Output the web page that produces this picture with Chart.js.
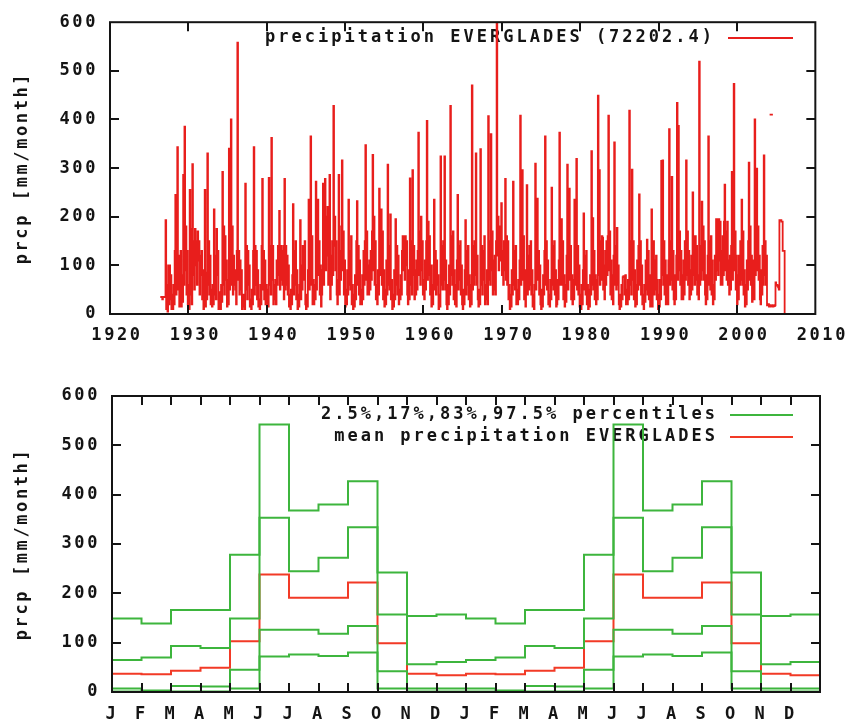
<!DOCTYPE html>
<html>
<head>
<meta charset="utf-8">
<script src="https://cdn.jsdelivr.net/npm/chart.js@4.4.1/dist/chart.umd.min.js"></script>
<style>
  body { margin: 0; background: #fff; }
  .panel { position: absolute; left: 0; width: 852px; }
  #top { top: 0; height: 355px; }
  #bottom { top: 360px; height: 361px; }
</style>
</head>
<body>
<div class="panel" id="top"><canvas id="c1"></canvas></div>
<div class="panel" id="bottom"><canvas id="c2"></canvas></div>
<script>
// monthly precipitation [mm/month], EVERGLADES (72202.4); first value is June 1926
const firstYear = 1926;
const firstMonth = 5; // 0 = January

const prcp1920s = [
  35, 35, 35, 30, 35, 35, 35,                              // 1926 Jun-Dec
  35, 193, 10, 60, 5, 100, 20, 100, 30, 80, 10, 40,        // 1927
  10, 60, 20, 130, 245, 40, 160, 343, 50, 120, 15, 55,     // 1928
  130, 15, 80, 25, 286, 60, 385, 90, 180, 40, 130, 20      // 1929
];
const prcp1930s = [
  60, 10, 255, 40, 175, 20, 308, 80, 150, 50, 175, 100,
  150, 60, 170, 110, 150, 40, 120, 80, 130, 30, 90, 10,
  40, 255, 15, 85, 30, 330, 60, 150, 40, 120, 20, 50,
  15, 60, 20, 215, 40, 120, 30, 175, 80, 130, 10, 45,
  20, 10, 60, 25, 292, 60, 180, 40, 160, 70, 110, 15,
  70, 20, 340, 50, 130, 400, 60, 180, 40, 120, 60, 90,
  50, 20, 130, 558, 70, 130, 40, 110, 50, 90, 10, 40,
  15, 40, 10, 268, 50, 140, 30, 130, 60, 100, 15, 30,
  10, 50, 20, 130, 343, 40, 140, 60, 130, 30, 90, 15,
  30, 10, 60, 20, 140, 278, 50, 130, 30, 110, 20, 60
];
const prcp1940s = [
  20, 50, 15, 280, 60, 140, 40, 362, 70, 140, 20, 60,
  30, 70, 20, 110, 60, 140, 80, 212, 50, 140, 70, 130,
  60, 140, 30, 278, 50, 140, 60, 120, 40, 100, 15, 40,
  10, 50, 20, 80, 226, 40, 130, 60, 150, 30, 90, 10,
  40, 15, 60, 193, 30, 100, 50, 140, 70, 120, 150, 20,
  10, 40, 15, 90, 235, 50, 140, 365, 60, 160, 20, 70,
  20, 60, 30, 272, 50, 130, 235, 80, 150, 40, 100, 15,
  40, 90, 268, 60, 150, 278, 90, 200, 120, 220, 60, 130,
  286, 30, 120, 60, 150, 80, 428, 140, 200, 90, 150, 40,
  20, 70, 286, 40, 130, 70, 180, 316, 90, 170, 40, 110
];
const prcp1950s = [
  15, 50, 20, 90, 40, 235, 60, 130, 50, 160, 20, 60,
  10, 40, 15, 80, 30, 150, 232, 60, 140, 40, 110, 20,
  50, 20, 80, 30, 130, 60, 150, 347, 70, 170, 40, 100,
  40, 110, 50, 130, 70, 170, 327, 90, 200, 60, 150, 30,
  60, 20, 90, 40, 258, 80, 140, 215, 60, 170, 30, 90,
  15, 50, 20, 110, 40, 307, 60, 140, 50, 205, 30, 70,
  10, 40, 15, 90, 30, 195, 60, 140, 40, 120, 20, 50,
  30, 80, 40, 130, 160, 90, 160, 70, 160, 100, 150, 40,
  20, 90, 30, 279, 60, 150, 40, 296, 80, 140, 30, 90,
  40, 110, 50, 130, 373, 80, 170, 60, 200, 90, 150, 40
];
const prcp1960s = [
  70, 30, 110, 50, 150, 397, 70, 190, 80, 160, 40, 100,
  15, 60, 20, 100, 235, 50, 130, 40, 110, 60, 80, 10,
  40, 15, 324, 60, 140, 50, 150, 70, 324, 50, 110, 20,
  10, 60, 20, 100, 40, 428, 80, 160, 60, 170, 30, 90,
  20, 60, 15, 110, 245, 50, 140, 70, 150, 40, 100, 20,
  10, 50, 20, 90, 193, 40, 130, 60, 140, 30, 80, 15,
  60, 20, 470, 50, 140, 60, 150, 80, 330, 60, 120, 30,
  15, 50, 20, 339, 60, 140, 40, 130, 70, 160, 20, 60,
  30, 90, 20, 407, 70, 150, 60, 370, 90, 170, 40, 110,
  50, 120, 40, 150, 640, 120, 200, 90, 180, 110, 150, 228
];
const prcp1970s = [
  80, 130, 60, 150, 90, 278, 70, 160, 60, 150, 30, 60,
  10, 40, 15, 90, 40, 272, 60, 130, 50, 140, 20, 50,
  20, 70, 30, 110, 408, 60, 150, 296, 70, 160, 30, 90,
  15, 60, 265, 40, 120, 50, 140, 60, 150, 40, 90, 15,
  40, 10, 60, 309, 50, 140, 237, 70, 130, 40, 100, 20,
  10, 50, 15, 80, 40, 130, 365, 60, 150, 50, 110, 20,
  40, 15, 70, 30, 260, 60, 140, 50, 150, 40, 90, 15,
  20, 70, 30, 110, 373, 60, 140, 195, 60, 150, 30, 80,
  15, 60, 25, 120, 307, 50, 130, 258, 70, 140, 30, 80,
  20, 70, 30, 235, 60, 120, 319, 50, 140, 40, 100, 15
];
const prcp1980s = [
  40, 10, 60, 20, 90, 207, 50, 120, 40, 130, 20, 60,
  10, 50, 15, 80, 40, 335, 60, 197, 50, 130, 30, 80,
  20, 70, 30, 449, 80, 296, 60, 150, 70, 160, 157, 50,
  100, 30, 130, 60, 150, 80, 160, 408, 90, 170, 40, 110,
  30, 80, 20, 120, 353, 60, 140, 50, 177, 60, 100, 20,
  10, 40, 15, 60, 30, 76, 78, 76, 40, 80, 20, 50,
  20, 70, 30, 418, 60, 150, 40, 297, 70, 150, 30, 90,
  15, 60, 20, 110, 50, 140, 246, 60, 150, 40, 100, 20,
  40, 10, 60, 25, 110, 50, 153, 40, 130, 30, 80, 15,
  40, 215, 15, 80, 150, 40, 110, 50, 120, 30, 70, 10
];
const prcp1990s = [
  40, 15, 70, 30, 315, 80, 316, 60, 150, 40, 110, 20,
  30, 80, 20, 110, 380, 60, 150, 70, 282, 50, 130, 30,
  20, 80, 30, 120, 434, 70, 387, 90, 170, 60, 130, 30,
  80, 30, 110, 40, 150, 70, 316, 80, 170, 60, 130, 30,
  90, 40, 120, 50, 250, 80, 160, 60, 160, 70, 140, 40,
  80, 30, 519, 60, 140, 70, 231, 90, 180, 70, 150, 40,
  20, 80, 30, 120, 365, 60, 150, 50, 160, 40, 110, 20,
  60, 30, 120, 70, 195, 90, 195, 80, 195, 110, 190, 60,
  130, 60, 160, 80, 190, 266, 90, 170, 70, 190, 60, 110,
  40, 120, 50, 140, 292, 70, 160, 473, 90, 170, 50, 120
];
const prcp2000s = [
  20, 80, 30, 120, 60, 150, 70, 235, 60, 170, 40, 90,
  15, 60, 20, 110, 50, 150, 311, 70, 180, 60, 120, 25,
  40, 110, 30, 400, 80, 160, 299, 90, 180, 70, 120, 30,
  20, 90, 40, 140, 60, 326, 80, 150, 60, 120, 18, 18,
  20, 15, 18, 15, 17, 16, 18, 15, 17, 16, 18, 65,
  60, 60, 58, 55, 50, 193, 193, 193, 190, 190, 130, 130,
  130, 0                                                   // 2006 Jan-Feb
];
// stray record drawn apart from the main line in 2004 (Mar-Aug)
const prcp2004stray = [410, 410, 410, 410, 410, 410];

const yearTicks = [1920, 1930, 1940, 1950, 1960, 1970, 1980, 1990, 2000, 2010];

// monthly climatology, shown twice (24 months)
const monthLabels = ['J', 'F', 'M', 'A', 'M', 'J', 'J', 'A', 'S', 'O', 'N', 'D'];
const meanPrcp = [37, 36, 43, 49, 103, 238, 191, 191, 222, 99, 37, 34];
const pct975 = [149, 139, 166, 166, 278, 542, 368, 380, 427, 242, 154, 157];
const pct83 = [65, 70, 93, 89, 149, 353, 245, 272, 334, 157, 56, 61];
const pct17 = [7, 3, 12, 11, 45, 126, 126, 118, 134, 42, 7, 7];
const pct025 = [1, 0, 1, 1, 7, 72, 76, 73, 80, 7, 1, 1];

const RED = '#e81e1c';
const RED2 = '#f23a26';
const GREEN = '#3db53d';
const INK = '#141414';
const FONT = { family: '"DejaVu Sans Mono", monospace', size: 17, weight: 'bold' };
const SPACING = '2.6px';

const monthly = [].concat(prcp1920s, prcp1930s, prcp1940s, prcp1950s, prcp1960s,
  prcp1970s, prcp1980s, prcp1990s, prcp2000s);
const monthlyPts = monthly.map((v, i) => ({ x: firstYear + (firstMonth + i) / 12, y: v }));
const strayPts = prcp2004stray.map((v, i) => ({ x: 2004 + (2 + i) / 12, y: v }));

// two years of steps plus the closing edge
const stepPts = vals => {
  const v = vals.concat(vals);
  const pts = v.map((y, i) => ({ x: i, y }));
  pts.push({ x: v.length, y: v[v.length - 1] });
  return pts;
};

// gnuplot-like frame with inward ticks and a key drawn in the upper right
const framePlugin = {
  id: 'frame',
  beforeUpdate(chart) { chart.ctx.letterSpacing = SPACING; },
  beforeDraw(chart) { chart.ctx.letterSpacing = SPACING; },
  beforeDatasetsDraw(chart, args, opts) {
    const ctx = chart.ctx;
    ctx.save();
    ctx.font = 'bold 17px "DejaVu Sans Mono", monospace';
    ctx.letterSpacing = '3px';
    ctx.fillStyle = INK;
    ctx.textAlign = 'right';
    ctx.textBaseline = 'middle';
    (opts.keys || []).forEach(k => {
      ctx.fillText(k.text, opts.textRight + 3, k.y);
      ctx.strokeStyle = k.color;
      ctx.lineWidth = 2;
      ctx.beginPath();
      ctx.moveTo(opts.lineFrom, k.y);
      ctx.lineTo(opts.lineTo, k.y);
      ctx.stroke();
    });
    ctx.restore();
  },
  afterDatasetsDraw(chart) {
    const { ctx, chartArea: a, scales: { x, y } } = chart;
    ctx.save();
    ctx.strokeStyle = INK;
    ctx.lineWidth = 2;
    ctx.beginPath();
    x.ticks.forEach(t => {
      const px = Math.round(x.getPixelForValue(t.value));
      if (px <= a.left + 1 || px >= a.right - 1) return;
      ctx.moveTo(px, a.bottom); ctx.lineTo(px, a.bottom - 9);
      ctx.moveTo(px, a.top); ctx.lineTo(px, a.top + 9);
    });
    y.ticks.forEach(t => {
      const py = Math.round(y.getPixelForValue(t.value));
      if (py <= a.top + 1 || py >= a.bottom - 1) return;
      ctx.moveTo(a.left, py); ctx.lineTo(a.left + 9, py);
      ctx.moveTo(a.right, py); ctx.lineTo(a.right - 9, py);
    });
    ctx.stroke();
    ctx.strokeRect(a.left, a.top, a.right - a.left, a.bottom - a.top);
    ctx.restore();
  }
};

const yAxis = (width) => ({
  min: 0, max: 600,
  grid: { display: false, drawTicks: false },
  border: { display: false },
  ticks: { stepSize: 100, color: INK, font: FONT, padding: 12 },
  title: { display: true, text: 'prcp [mm/month]', color: INK, font: FONT, padding: { top: 12, bottom: 0 } },
  afterFit: s => { s.width = width; }
});

new Chart(document.getElementById('c1'), {
  type: 'line',
  data: {
    datasets: [
      { data: monthlyPts, borderColor: RED, borderWidth: 1.8, pointRadius: 0, stepped: true, fill: false },
      { data: strayPts, borderColor: RED, borderWidth: 1.8, pointRadius: 0, stepped: true, fill: false }
    ]
  },
  options: {
    responsive: true, maintainAspectRatio: false, animation: false,
    layout: { padding: { left: 0, right: 34, top: 18, bottom: 0 } },
    plugins: {
      legend: { display: false }, tooltip: { enabled: false },
      frame: {
        textRight: 712, lineFrom: 728, lineTo: 793,
        keys: [{ text: 'precipitation EVERGLADES (72202.4)', color: RED, y: 38 }]
      }
    },
    scales: {
      x: {
        type: 'linear', min: 1920, max: 2010,
        grid: { display: false, drawTicks: false },
        border: { display: false },
        afterBuildTicks: s => { s.ticks = yearTicks.map(v => ({ value: v })); },
        ticks: { color: INK, font: FONT, padding: 11, labelOffset: 7, autoSkip: false, maxRotation: 0,
          callback: v => String(v) },
        afterFit: s => { s.height = 41; }
      },
      y: yAxis(110)
    }
  },
  plugins: [framePlugin]
});

const stepSet = (vals, color) => ({
  data: stepPts(vals), borderColor: color, borderWidth: 2, pointRadius: 0, stepped: true, fill: false
});

new Chart(document.getElementById('c2'), {
  type: 'line',
  data: {
    datasets: [
      stepSet(pct025, GREEN),
      stepSet(pct17, GREEN),
      stepSet(pct83, GREEN),
      stepSet(pct975, GREEN),
      stepSet(meanPrcp, RED2)
    ]
  },
  options: {
    responsive: true, maintainAspectRatio: false, animation: false,
    layout: { padding: { left: 0, right: 32, top: 36, bottom: 0 } },
    plugins: {
      legend: { display: false }, tooltip: { enabled: false },
      frame: {
        textRight: 715, lineFrom: 730, lineTo: 793,
        keys: [
          { text: '2.5%,17%,83%,97.5% percentiles', color: GREEN, y: 55 },
          { text: 'mean precipitation EVERGLADES', color: RED2, y: 77 }
        ]
      }
    },
    scales: {
      x: {
        type: 'linear', min: 0, max: 24,
        grid: { display: false, drawTicks: false },
        border: { display: false },
        ticks: { stepSize: 1, color: INK, font: FONT, padding: 12, autoSkip: false, maxRotation: 0,
          callback: v => (v < 24 ? monthLabels[v % 12] : '') },
        afterFit: s => { s.height = 29; }
      },
      y: yAxis(112)
    }
  },
  plugins: [framePlugin]
});
</script>
</body>
</html>
